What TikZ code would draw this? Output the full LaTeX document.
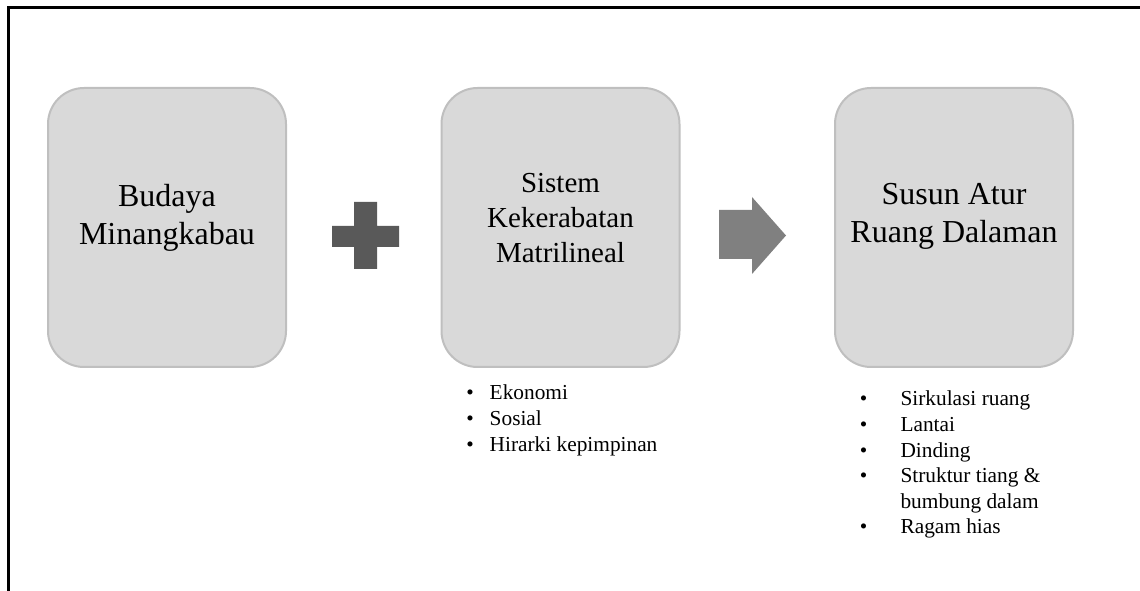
\documentclass[tikz,border=0pt]{standalone}
\usepackage{fontspec}
\setmainfont{Liberation Serif}
\usetikzlibrary{
	positioning				% Relative placement
	, calc					% Coordinate shifts
}
\definecolor{boxfill}{HTML}{D9D9D9}
\definecolor{boxline}{HTML}{BFBFBF}
\definecolor{plusgray}{HTML}{595959}
\definecolor{arrowgray}{HTML}{808080}

\begin{document}
\begin{tikzpicture}[
		x=0.75pt, y=-0.75pt
		, stage/.style={draw=boxline, fill=boxfill, line width=1.5pt, rounded corners=27pt, minimum width=178.5pt, minimum height=209.25pt, inner sep=0pt}
		, stagelabel/.style={align=center, inner sep=0pt, font=\fontsize{24}{28.5}\selectfont}
		, smalllabel/.style={stagelabel, font=\fontsize{21.75}{26}\selectfont}
		, itemlist/.style={anchor=base west, inner sep=0pt}
		, frameline/.style={line width=2.25pt}
		, plussign/.style={fill=plusgray}
		, bigarrow/.style={fill=arrowgray}]

		%%% Canvas
		\useasboundingbox (0,0) rectangle (1140,591);
		\draw[frameline] (8.5,591) -- (8.5,7.5) -- (1140,7.5);

		%%% Stages
		\node[stage] (budaya) at (167,227.5) {};
		\node[stage] (sistem) at (560.5,227.5) {};
		\node[stage] (susun) at (954,227.5) {};

		%% Stage labels
		\node[stagelabel] (budayalabel) at ([yshift=7pt]budaya.center) {Budaya\\Minangkabau};
		\node[smalllabel] (sistemlabel) at ([yshift=7pt]sistem.center) {Sistem\\Kekerabatan\\Matrilineal};
		\node[stagelabel] (susunlabel) at ([yshift=8pt]susun.center) {Susun Atur\\Ruang Dalaman};

		%%% Plus between first and second stage
		\fill[plussign] (354,202) -- (377,202) -- (377,226) -- (399,226) -- (399,247) -- (377,247)
			-- (377,269) -- (354,269) -- (354,247) -- (332,247) -- (332,226) -- (354,226) -- cycle;

		%%% Arrow between second and third stage
		\fill[bigarrow] (719,210) -- (752,210) -- (752,197) -- (786,235.5) -- (752,274) -- (752,259) -- (719,259) -- cycle;

		%%% Item lists
		%% Sistem
		\node[itemlist] (sistemitems) at (466,400) {\fontsize{16}{19.5}\selectfont
			\begin{tabular}[t]{@{}l@{\hspace{12pt}}l@{}}
				\textbullet & Ekonomi\\
				\textbullet & Sosial\\
				\textbullet & Hirarki kepimpinan
			\end{tabular}};

		%% Susun Atur
		\node[itemlist] (susunitems) at (859.5,406) {\fontsize{16}{19.2}\selectfont
			\begin{tabular}[t]{@{}l@{\hspace{25pt}}l@{}}
				\textbullet & Sirkulasi ruang\\
				\textbullet & Lantai\\
				\textbullet & Dinding\\
				\textbullet & Struktur tiang \&\\
				 & bumbung dalam\\
				\textbullet & Ragam hias
			\end{tabular}};
	\end{tikzpicture}
\end{document}
